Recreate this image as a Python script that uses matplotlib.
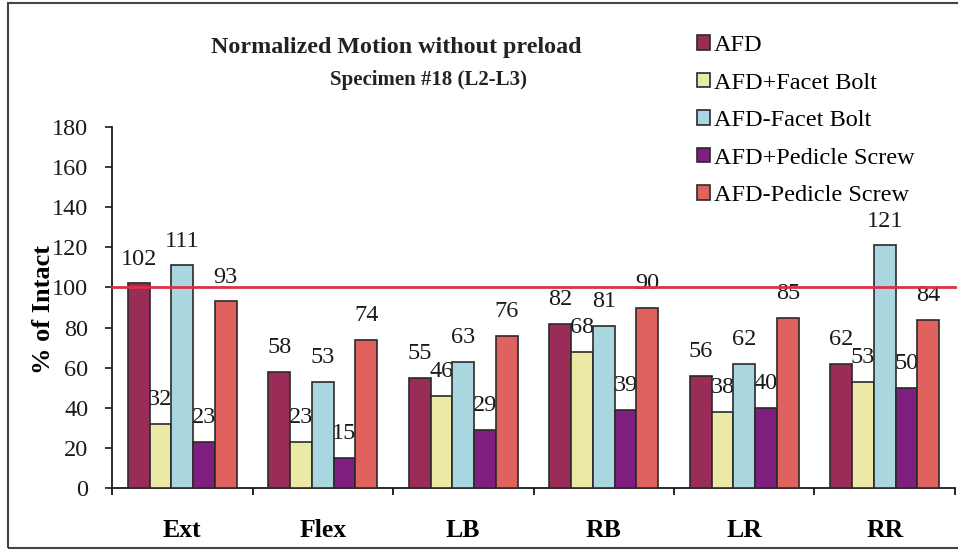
import matplotlib
matplotlib.use("Agg")
import matplotlib.pyplot as plt
from matplotlib.patches import Patch, Rectangle
import numpy as np

categories = ["Ext", "Flex", "LB", "RB", "LR", "RR"]
series_names = ["AFD", "AFD+Facet Bolt", "AFD-Facet Bolt", "AFD+Pedicle Screw", "AFD-Pedicle Screw"]
afd = [102, 58, 55, 82, 56, 62]
afd_facet_plus = [32, 23, 46, 68, 38, 53]
afd_facet_minus = [111, 53, 63, 81, 62, 121]
afd_pedicle_plus = [23, 15, 29, 39, 40, 50]
afd_pedicle_minus = [93, 74, 76, 90, 85, 84]
series_values = [afd, afd_facet_plus, afd_facet_minus, afd_pedicle_plus, afd_pedicle_minus]
colors = ["#9A2D58", "#ECE9A6", "#A9D6DF", "#7E1F80", "#E0625F"]
y_ticks = list(range(0, 181, 20))
reference_value = 100

plt.rcParams['font.family'] = ['Liberation Serif', 'DejaVu Serif']

W, H = 958, 552
fig = plt.figure(figsize=(W / 100, H / 100), dpi=100)
fig.patch.set_facecolor("white")

# outer frame
fig.patches.append(Rectangle((8 / W, 1 - 548 / H), (W + 5 - 8) / W, (548 - 3) / H,
                             transform=fig.transFigure, fill=False,
                             edgecolor="#444444", linewidth=1.5))

ax_left, ax_right, ax_bottom, ax_top = 112, 955, 488, 127
ax = fig.add_axes([ax_left / W, 1 - ax_bottom / H, (ax_right - ax_left) / W, (ax_bottom - ax_top) / H])

x = np.arange(len(categories))
bw = 0.155
for i, (name, vals, col) in enumerate(zip(series_names, series_values, colors)):
    xs = x + (i - 2) * bw
    ax.bar(xs, vals, width=bw, color=col, edgecolor="#2a2a2a", linewidth=1.2, label=name, zorder=3)
    for xi, v in zip(xs, vals):
        ax.text(xi, v + 12, str(v), ha="center", va="center", fontsize=17.5,
                color="#1a1a1a", zorder=2.5)

ax.axhline(reference_value, color="#D9304C", linewidth=2, zorder=4, clip_on=False)

ax.set_xlim(-0.5, len(categories) - 0.5)
ax.set_ylim(0, 180)
ax.set_yticks(y_ticks)
ax.set_yticklabels([str(t) for t in y_ticks], fontsize=17.5)
ax.tick_params(axis="y", direction="out", length=5, width=1.2, pad=12, colors="#1a1a1a")

ax.set_xticks(np.arange(-0.5, len(categories), 1.0))
ax.set_xticklabels([])
ax.tick_params(axis="x", which="major", direction="out", length=5, width=1.2)
ax.set_xticks(x, minor=True)
ax.set_xticklabels(categories, minor=True, fontsize=18.5, fontweight="bold")
ax.tick_params(axis="x", which="minor", length=0, pad=22)

for s in ["top", "right"]:
    ax.spines[s].set_visible(False)
for s in ["left", "bottom"]:
    ax.spines[s].set_linewidth(1.3)
    ax.spines[s].set_color("#1a1a1a")

fig.text(44 / W, 1 - 310 / H, "% of Intact", rotation=90, ha="center", va="center",
         fontsize=19, fontweight="bold")

fig.text(396 / W, 1 - 47 / H, "Normalized Motion without preload", ha="center", va="center",
         fontsize=17.3, fontweight="bold", color="#222222")
fig.text(428 / W, 1 - 80 / H, "Specimen #18 (L2-L3)", ha="center", va="center",
         fontsize=15, fontweight="bold", color="#222222")

handles = [Patch(facecolor=c, edgecolor="#2a2a2a", linewidth=1.2) for c in colors]
fig.legend(handles, series_names, loc="upper left", bbox_to_anchor=(697 / W, 1 - 35 / H),
           frameon=False, fontsize=17.5, handlelength=0.55, handleheight=0.55,
           handletextpad=0.15, labelspacing=0.68, borderaxespad=0, borderpad=0)

fig.savefig("out.png", dpi=100, facecolor="white")
